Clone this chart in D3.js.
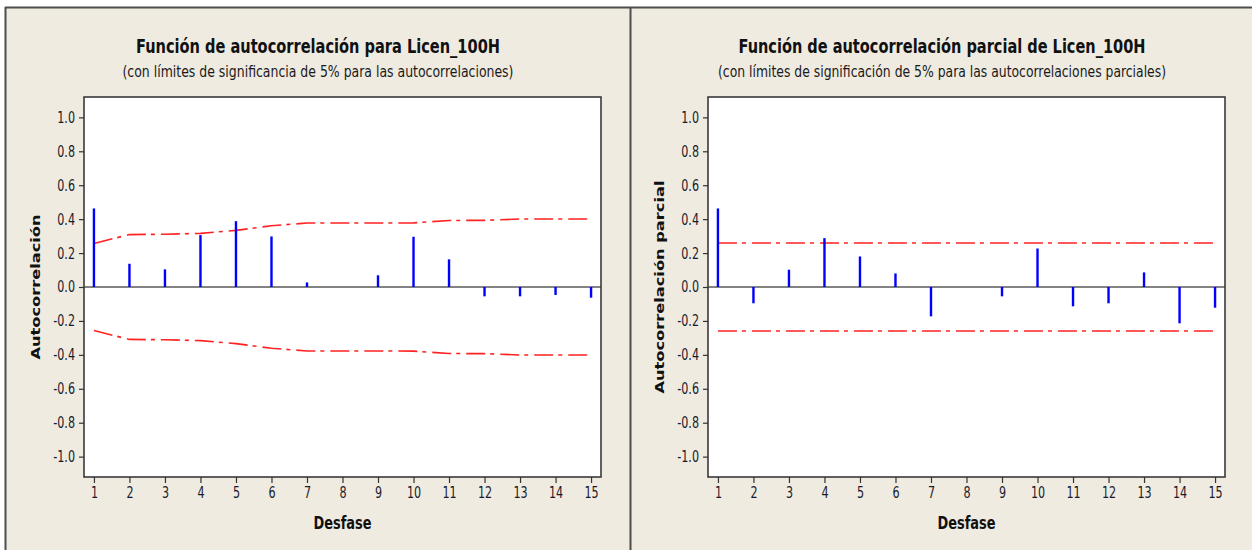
<!DOCTYPE html>
<html>
<head>
<meta charset="utf-8">
<script src="https://cdn.jsdelivr.net/npm/d3@7"></script>
<style>
  html, body { margin: 0; padding: 0; background: #ffffff; }
  svg { display: block; }
  .tick text { font-family: "Liberation Sans Narrow", "DejaVu Sans Condensed", "Liberation Sans", sans-serif; font-size: 15.5px; fill: #1a1a2a; }
</style>
</head>
<body>
<svg id="chart" width="1252" height="550"></svg>
<script>
// Lags shown on both correlograms
const lags = [1, 2, 3, 4, 5, 6, 7, 8, 9, 10, 11, 12, 13, 14, 15];

// Autocorrelation function of Licen_100H
const acfValues = [0.463, 0.137, 0.104, 0.306, 0.388, 0.298, 0.027, 0.0, 0.069, 0.296, 0.163, -0.055, -0.055, -0.047, -0.063];
// 5% significance limits for the autocorrelations (± this value)
const acfLimits = [0.257, 0.309, 0.311, 0.316, 0.334, 0.361, 0.377, 0.377, 0.377, 0.378, 0.392, 0.393, 0.401, 0.401, 0.401];

// Partial autocorrelation function of Licen_100H
const pacfValues = [0.463, -0.096, 0.102, 0.288, 0.180, 0.080, -0.173, 0.0, -0.055, 0.227, -0.114, -0.096, 0.086, -0.214, -0.122];
// 5% significance limits for the partial autocorrelations (± this value)
const pacfLimits = [0.259, 0.259, 0.259, 0.259, 0.259, 0.259, 0.259, 0.259, 0.259, 0.259, 0.259, 0.259, 0.259, 0.259, 0.259];

// Y axis tick values
const yTicks = [-1.0, -0.8, -0.6, -0.4, -0.2, 0.0, 0.2, 0.4, 0.6, 0.8, 1.0];

const titles = [
  "Función de autocorrelación para Licen_100H",
  "Función de autocorrelación parcial de Licen_100H"
];
const subtitles = [
  "(con límites de significancia de 5% para las autocorrelaciones)",
  "(con límites de significación de 5% para las autocorrelaciones parciales)"
];
const yLabels = ["Autocorrelación", "Autocorrelación parcial"];
const xLabel = "Desfase";

const svg = d3.select("#chart");
const W = 1252, H = 550;
const narrowFont = '"Liberation Sans Narrow", "DejaVu Sans Condensed", "Liberation Sans", sans-serif';

// Squeeze a text element horizontally to mimic a condensed face
function condense(sel, factor) {
  sel.each(function () {
    const len = this.getComputedTextLength();
    d3.select(this).attr("textLength", len * factor).attr("lengthAdjust", "spacingAndGlyphs");
  });
}

// Window background and panel borders
svg.append("rect").attr("x", 0).attr("y", 0).attr("width", W).attr("height", H).attr("fill", "#ffffff");
svg.append("rect").attr("x", 5).attr("y", 7).attr("width", W - 5).attr("height", H - 7).attr("fill", "#efebe1");
const border = "#4d4d4d";
svg.append("line").attr("x1", 5).attr("x2", W).attr("y1", 7.5).attr("y2", 7.5).attr("stroke", border).attr("stroke-width", 2);
svg.append("line").attr("x1", 5.5).attr("x2", 5.5).attr("y1", 7).attr("y2", H).attr("stroke", border).attr("stroke-width", 2);
svg.append("line").attr("x1", 630.5).attr("x2", 630.5).attr("y1", 7).attr("y2", H).attr("stroke", border).attr("stroke-width", 2);

const panels = [
  { values: acfValues, limits: acfLimits, title: titles[0], subtitle: subtitles[0], yLabel: yLabels[0],
    cx: 318, left: 84, right: 601, titleLen: 364, subLen: 391, yLabelX: 40, yLabelLen: 145 },
  { values: pacfValues, limits: pacfLimits, title: titles[1], subtitle: subtitles[1], yLabel: yLabels[1],
    cx: 942, left: 708, right: 1225, titleLen: 407, subLen: 448, yLabelX: 664, yLabelLen: 213 }
];

const plotTop = 97, plotBottom = 477;
const numFmt = d => d.toFixed(1);

panels.forEach(p => {
  const g = svg.append("g");

  const x = d3.scaleLinear().domain([0.72, 15.28]).range([p.left, p.right]);
  const y = d3.scaleLinear().domain([-1.12, 1.12]).range([plotBottom, plotTop]);

  // Titles
  g.append("text")
    .attr("x", p.cx).attr("y", 53)
    .attr("text-anchor", "middle")
    .attr("textLength", p.titleLen).attr("lengthAdjust", "spacingAndGlyphs")
    .style("font-family", narrowFont)
    .style("font-weight", "bold").style("font-size", "20px").style("fill", "#111")
    .text(p.title);
  g.append("text")
    .attr("x", p.cx).attr("y", 76.5)
    .attr("text-anchor", "middle")
    .attr("textLength", p.subLen).attr("lengthAdjust", "spacingAndGlyphs")
    .style("font-family", narrowFont)
    .style("font-size", "15.5px").style("fill", "#1a1a1a")
    .text(p.subtitle);

  // Plot area
  g.append("rect")
    .attr("x", p.left).attr("y", plotTop)
    .attr("width", p.right - p.left).attr("height", plotBottom - plotTop)
    .attr("fill", "#ffffff");

  // Significance limits
  const limitLine = sign => d3.line()
    .x((d, i) => x(lags[i]))
    .y(d => y(sign * d));
  [1, -1].forEach(sign => {
    g.append("path")
      .datum(p.limits)
      .attr("d", limitLine(sign))
      .attr("fill", "none")
      .attr("stroke", "#ff2222")
      .attr("stroke-width", 1.6)
      .attr("stroke-dasharray", "19,5,4,6");
  });

  // Zero reference line
  g.append("line")
    .attr("x1", p.left).attr("x2", p.right)
    .attr("y1", y(0)).attr("y2", y(0))
    .attr("stroke", "#5a5a5a").attr("stroke-width", 1.6);

  // Correlation spikes
  g.selectAll("line.spike")
    .data(p.values)
    .join("line")
    .attr("class", "spike")
    .attr("x1", (d, i) => x(lags[i])).attr("x2", (d, i) => x(lags[i]))
    .attr("y1", y(0)).attr("y2", d => y(d))
    .attr("stroke", "#0000ff").attr("stroke-width", 2.4);

  // Frame
  g.append("rect")
    .attr("x", p.left).attr("y", plotTop)
    .attr("width", p.right - p.left).attr("height", plotBottom - plotTop)
    .attr("fill", "none").attr("stroke", "#3a3a3a").attr("stroke-width", 1.6);

  // Axes
  const yAxis = g.append("g")
    .attr("transform", `translate(${p.left},0)`)
    .call(d3.axisLeft(y).tickValues(yTicks).tickFormat(numFmt).tickSize(5).tickPadding(4));
  yAxis.select(".domain").remove();
  yAxis.selectAll(".tick line").attr("stroke", "#333").attr("stroke-width", 1.2);
  condense(yAxis.selectAll(".tick text"), 0.8);

  const xAxis = g.append("g")
    .attr("transform", `translate(0,${plotBottom})`)
    .call(d3.axisBottom(x).tickValues(lags).tickFormat(d3.format("d")).tickSize(6).tickPadding(4));
  xAxis.select(".domain").remove();
  xAxis.selectAll(".tick line").attr("stroke", "#333").attr("stroke-width", 1.2);
  condense(xAxis.selectAll(".tick text"), 0.8);

  // Axis titles
  g.append("text")
    .attr("x", (p.left + p.right) / 2).attr("y", 529)
    .attr("text-anchor", "middle")
    .attr("textLength", 58).attr("lengthAdjust", "spacingAndGlyphs")
    .style("font-family", narrowFont)
    .style("font-weight", "bold").style("font-size", "18px").style("fill", "#111")
    .text(xLabel);
  g.append("text")
    .attr("transform", `translate(${p.yLabelX},${y(0)}) rotate(-90)`)
    .attr("text-anchor", "middle")
    .attr("textLength", p.yLabelLen).attr("lengthAdjust", "spacingAndGlyphs")
    .style("font-family", '"DejaVu Sans", Verdana, sans-serif')
    .style("font-weight", "bold").style("font-size", "13px").style("fill", "#111")
    .text(p.yLabel);
});
</script>
</body>
</html>
